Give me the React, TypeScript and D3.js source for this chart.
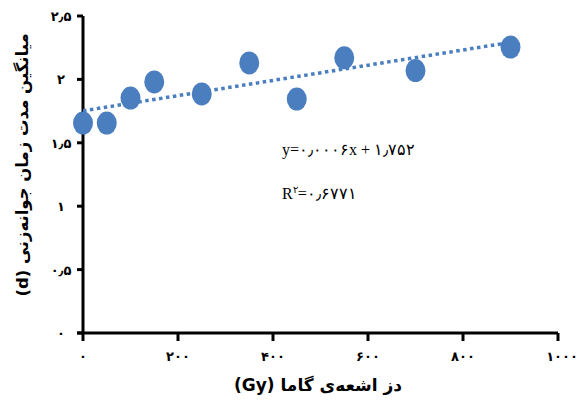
import React from "react";
import * as d3 from "d3";

// Gamma dose (Gy) and mean germination time (d)
const doses = [0, 50, 100, 150, 250, 350, 450, 550, 700, 900];
const meanDays = [1.656, 1.656, 1.853, 1.98, 1.885, 2.13, 1.845, 2.17, 2.07, 2.255];

const xTicks = [0, 200, 400, 600, 800, 1000];
const xTickLabels = ["۰", "۲۰۰", "۴۰۰", "۶۰۰", "۸۰۰", "۱۰۰۰"];
const yTicks = [0, 0.5, 1, 1.5, 2, 2.5];
const yTickLabels = ["۰", "۰٫۵", "۱", "۱٫۵", "۲", "۲٫۵"];

const slope = 0.0006;
const intercept = 1.752;
const trendX = [0, 900];

const W = 583;
const H = 400;

export default function App() {
  const x = d3.scaleLinear().domain([0, 1000]).range([83, 558]);
  const y = d3.scaleLinear().domain([0, 2.5]).range([333, 16]);
  const blue = "#4a7ebf";
  const persian = "'DejaVu Sans', sans-serif";
  const serif = "'Liberation Serif', 'DejaVu Serif', serif";

  const trend = d3
    .line<number>()
    .x((d) => x(d))
    .y((d) => y(slope * d + intercept))(trendX);

  return (
    <svg
      width={W}
      height={H}
      style={{ position: "absolute", left: 0, top: 0, background: "#fff" }}
    >
      {/* axes */}
      <line x1={x(0)} x2={x(0)} y1={y(2.5)} y2={y(0)} stroke="#000" strokeWidth={3} />
      <line x1={77} x2={x(1000)} y1={y(0)} y2={y(0)} stroke="#000" strokeWidth={3} />
      {yTicks.map((t, i) => (
        <g key={"y" + i}>
          <line x1={77} x2={x(0)} y1={y(t)} y2={y(t)} stroke="#000" strokeWidth={3} />
          <text
            x={61}
            y={y(t) + 5}
            textAnchor="middle"
            fontFamily={persian}
            fontWeight="bold"
            fontSize={13}
            fill="#000"
          >
            {yTickLabels[i]}
          </text>
        </g>
      ))}
      {xTicks.map((t, i) => (
        <g key={"x" + i}>
          <line x1={x(t)} x2={x(t)} y1={y(0)} y2={y(0) + 8} stroke="#000" strokeWidth={3} />
          <text
            x={x(t) + (i === 5 ? 4 : 0)}
            y={361}
            textAnchor="middle"
            fontFamily={persian}
            fontWeight="bold"
            fontSize={13}
            fill="#000"
          >
            {xTickLabels[i]}
          </text>
        </g>
      ))}

      {/* data points */}
      {doses.map((d, i) => (
        <ellipse key={"p" + i} cx={x(d)} cy={y(meanDays[i])} rx={10} ry={11.5} fill={blue} />
      ))}

      {/* linear trend */}
      <path
        d={trend ?? ""}
        fill="none"
        stroke={blue}
        strokeWidth={3.5}
        strokeDasharray="3.5 3.5"
      />

      {/* regression equation */}
      <text x={282} y={155} fontFamily={serif} fontSize={16} fill="#000">
        y=۰٫۰۰۰۶x + ۱٫۷۵۲
      </text>
      <text x={282} y={199} fontFamily={serif} fontSize={16} fill="#000">
        R<tspan fontSize={10} dy={-6}>۲</tspan>
        <tspan dy={6}>=۰٫۶۷۷۱</tspan>
      </text>

      {/* axis titles */}
      <text
        x={318}
        y={391}
        textAnchor="middle"
        direction="rtl"
        fontFamily={persian}
        fontWeight="bold"
        fontSize={17}
        fill="#000"
      >
        دز اشعه‌ی گاما (Gy)
      </text>
      <text
        transform={`translate(28, 165) rotate(-90)`}
        textAnchor="middle"
        direction="rtl"
        fontFamily={persian}
        fontWeight="bold"
        fontSize={16.5}
        fill="#000"
      >
        میانگین مدت زمان جوانه‌زنی (d)
      </text>
    </svg>
  );
}
